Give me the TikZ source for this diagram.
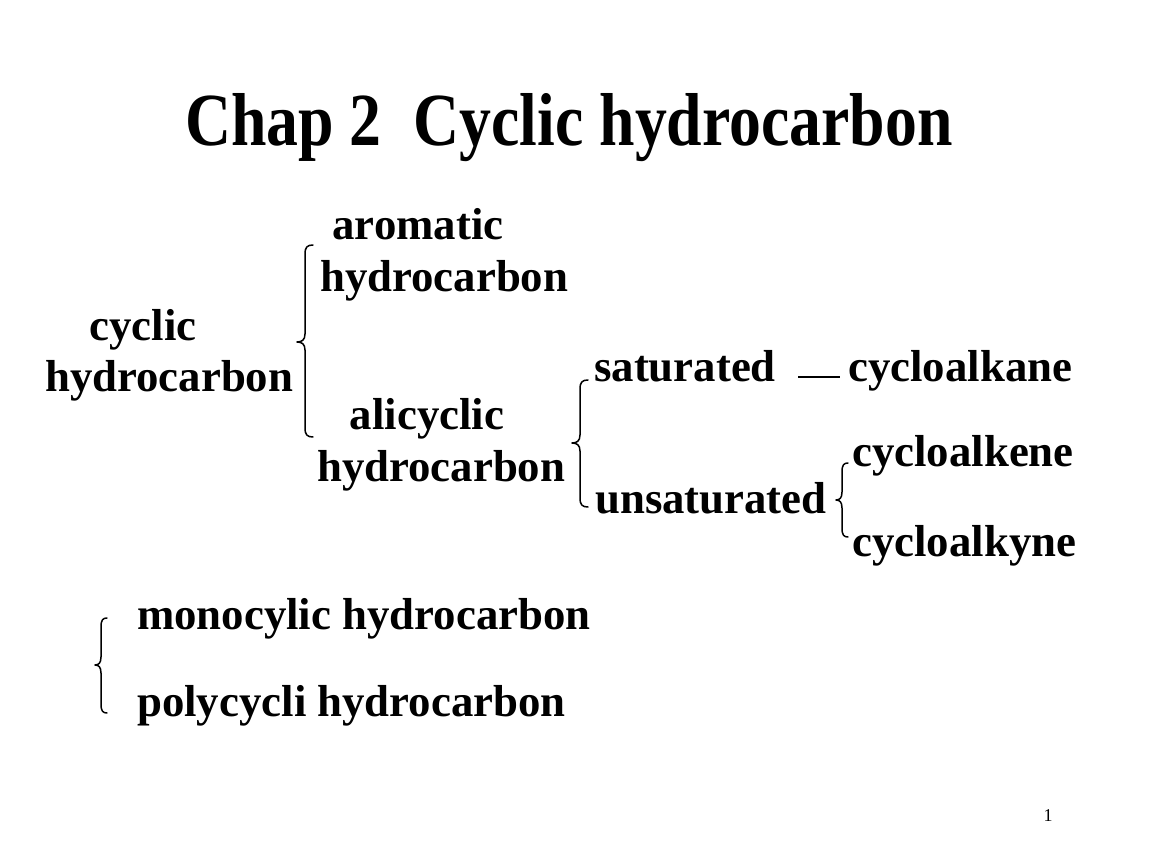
\documentclass[tikz,border=0pt]{standalone}
\usepackage{fontspec}
\setmainfont{Liberation Serif}
\newfontfamily\bodyfont{Liberation Serif Bold}
\newfontfamily\titlefont{Liberation Serif Bold}[FakeStretch=0.85]
\begin{document}
\begin{tikzpicture}[x=1pt,y=-1pt,
  lbl/.style={font=\bodyfont\fontsize{44.8}{48}\selectfont, inner sep=0pt, anchor=base west},
  lblc/.style={font=\bodyfont\fontsize{44.8}{48}\selectfont, inner sep=0pt, anchor=base},
  brace/.style={line width=1.5pt, line cap=round, line join=round},
  dashline/.style={line width=1.6pt}]
\useasboundingbox[fill=white] (0,0) rectangle (1152,864);
\newcommand\mybrace[5]{% #1 vert x, #2 tip x, #3 top, #4 mid, #5 bot
  \pgfmathsetmacro\bw{#1-#2}
  \draw[brace] ({#1+\bw},#3) .. controls ({#1+0.3*\bw},#3) and (#1,{#3+2}) .. (#1,{#3+9})
    -- (#1,{#4-8}) .. controls (#1,{#4-2}) and ({#1-0.4*\bw},#4) .. (#2,#4)
    .. controls ({#1-0.4*\bw},#4) and (#1,{#4+2}) .. (#1,{#4+8})
    -- (#1,{#5-9}) .. controls (#1,{#5-2}) and ({#1+0.3*\bw},#5) .. ({#1+\bw},#5);}

\node[inner sep=0pt, anchor=base, font=\titlefont\fontsize{75}{80}\selectfont] (title) at (569,146) {Chap 2\ \ Cyclic hydrocarbon};

\node[lblc] (cyc1) at (143,340) {cyclic};
\node[lbl] (cyc2) at (45,391) {hydrocarbon};

\node[lblc] (aro1) at (418,240) {aromatic};
\node[lbl] (aro2) at (320,291) {hydrocarbon};

\node[lblc] (ali1) at (427,429) {alicyclic};
\node[lbl] (ali2) at (317,481) {hydrocarbon};

\node[lbl] (sat) at (594,381) {saturated};
\node[lbl] (alkane) at (848,381) {cycloalkane};
\node[lbl] (unsat) at (595,513) {unsaturated};
\node[lbl] (alkene) at (852,466) {cycloalkene};
\node[lbl] (alkyne) at (852,556) {cycloalkyne};

\node[lbl] (mono) at (137,629) {monocylic hydrocarbon};
\node[lbl] (poly) at (137,716) {polycycli hydrocarbon};

\node[inner sep=0pt, anchor=base, font=\fontsize{18}{20}\selectfont] (page) at (1048,821) {1};

\draw[dashline] ([xshift=22pt,yshift=4pt]sat.base east) -- ([xshift=-8pt,yshift=4pt]alkane.base west);

\mybrace{305}{297}{245}{342}{437}
\mybrace{580}{572}{380}{443}{507}
\mybrace{842}{836}{463}{500}{537}
\mybrace{101}{95}{618}{665}{713}
\end{tikzpicture}
\end{document}
